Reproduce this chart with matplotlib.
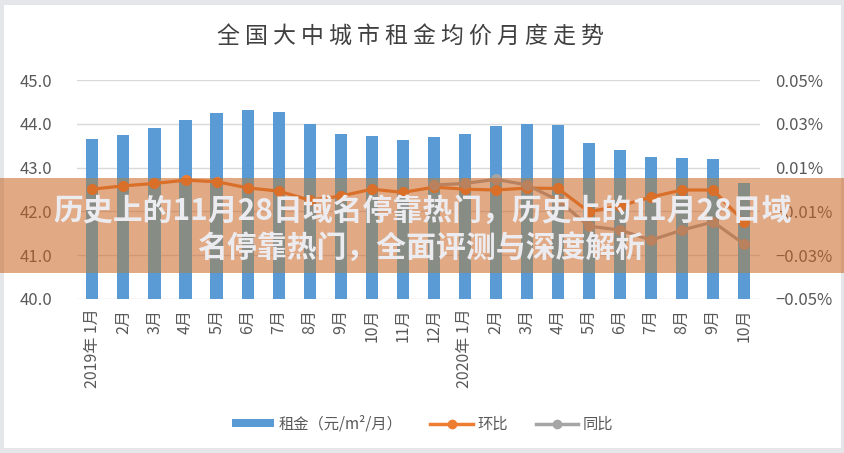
import numpy as np
import matplotlib
matplotlib.use('Agg')
import matplotlib.pyplot as plt
from matplotlib.patches import Rectangle, Patch
from matplotlib.lines import Line2D

plt.rcParams['font.family'] = ['Noto Sans CJK SC', 'DejaVu Sans']

months = ['2019年 1月', '2月', '3月', '4月', '5月', '6月', '7月', '8月', '9月', '10月', '11月', '12月',
          '2020年 1月', '2月', '3月', '4月', '5月', '6月', '7月', '8月', '9月', '10月']
# 租金 (元/m²/月)
rent = [43.65, 43.74, 43.90, 44.09, 44.25, 44.32, 44.27, 44.00, 43.77, 43.72, 43.63,
        43.70, 43.77, 43.95, 44.00, 43.97, 43.56, 43.40, 43.24, 43.22, 43.20, 42.65]
# 环比 (%)
mom = [0.0002, 0.0017, 0.0028, 0.0043, 0.0036, 0.0008, -0.0007, -0.0048, -0.0030, 0.0002, -0.0013,
       0.0011, 0.0002, -0.0002, 0.0007, 0.0005, -0.0101, -0.0075, -0.0034, -0.0002, -0.0002, -0.0147]
# 同比 (%)
yoy = [np.nan] * 11 + [0.0021, 0.0028, 0.0047, 0.0021, -0.0048, -0.0167, -0.0185, -0.0231,
                       -0.0185, -0.0148, -0.0249]

left_ticks = [40, 41, 42, 43, 44, 45]
right_ticks = [0.05, 0.03, 0.01, -0.01, -0.03, -0.05]

title = '全 国 大 中 城 市 租 金 均 价 月 度 走 势'
banner1 = '历史上的11月28日域名停靠热门，历史上的11月28日域'
banner2 = '名停靠热门，全面评测与深度解析'

blue = '#5b9bd5'
orange = '#ed7d31'
grey = '#a5a5a5'

fig = plt.figure(figsize=(8.45, 4.53), dpi=100, facecolor='#e4e6e9')
fig.add_artist(Rectangle((0.005, 0.011), 0.99, 0.978, transform=fig.transFigure,
                         facecolor='white', edgecolor='none', zorder=-1))

ax = fig.add_axes([0.091, 0.340, 0.808, 0.483])
ax.set_facecolor('none')
x = np.arange(len(months))
ax.bar(x, rent, width=0.39, color=blue, zorder=2)

# band area: bars look grey under the banner
band = (0.0, 0.3967, 1.0, 0.2097)
clip = Rectangle(band[:2], band[2], band[3], transform=fig.transFigure)
bars2 = ax.bar(x, rent, width=0.39, color=(0.21, 0.74, 1.0), zorder=2.1)
for b in bars2:
    b.set_clip_path(clip)

ax.set_xlim(-0.5, len(months) - 0.5)
ax.set_ylim(40, 45)
ax.set_yticks(left_ticks)
ax.set_yticklabels(['%.1f' % v for v in left_ticks])
ax.set_xticks(x)
ax.set_xticklabels(months, rotation=90, va='top', ha='center')
ax.grid(axis='y', color='#d9d9d9', lw=1)
ax.set_axisbelow(True)
for s in ax.spines.values():
    s.set_visible(False)
ax.tick_params(axis='y', length=0, pad=18, labelsize=12, labelcolor='#595959')
ax.tick_params(axis='x', length=0, pad=7, labelsize=11.5, labelcolor='#595959')

ax2 = ax.twinx()
ax2.set_ylim(-0.05, 0.05)
ax2.set_yticks(right_ticks)
ax2.set_yticklabels([('%.2f%%' % v).replace('-', '−') for v in right_ticks])
for s in ax2.spines.values():
    s.set_visible(False)
ax2.tick_params(axis='y', length=0, pad=11, labelsize=12, labelcolor='#595959')
ax2.plot(x, mom, color=orange, lw=2.3, marker='o', ms=7, zorder=3)
ax2.plot(x, yoy, color=grey, lw=2.3, marker='o', ms=7, zorder=4)

# banner overlay
fig.add_artist(Rectangle(band[:2], band[2], band[3], transform=fig.transFigure,
                         facecolor='#ca6422', edgecolor='none', alpha=0.55, zorder=2))
fig.text(0.5, 1 - 211 / 453, banner1, ha='center', va='center', fontsize=21.5,
         fontweight='bold', color='#ececf0', zorder=4)
fig.text(0.499, 1 - 248 / 453, banner2, ha='center', va='center', fontsize=21.5,
         fontweight='bold', color='#ececf0', zorder=4)

fig.text(0.486, 1 - 37 / 453, title, ha='center', va='center', fontsize=16.5, color='#404040')

handles = [Patch(facecolor=blue, edgecolor='none'),
           Line2D([], [], color=orange, lw=2.5, marker='o', ms=6),
           Line2D([], [], color=grey, lw=2.5, marker='o', ms=6)]
fig.legend(handles, ['租金（元/m²/月）', '环比', '同比'], ncol=3, loc='center',
           bbox_to_anchor=(0.5, 1 - 424 / 453), frameon=False, fontsize=11,
           handlelength=2.8, handleheight=0.5, columnspacing=1.8, handletextpad=0.3,
           labelcolor='#595959')

fig.savefig('out.png', dpi=100, facecolor=fig.get_facecolor())
